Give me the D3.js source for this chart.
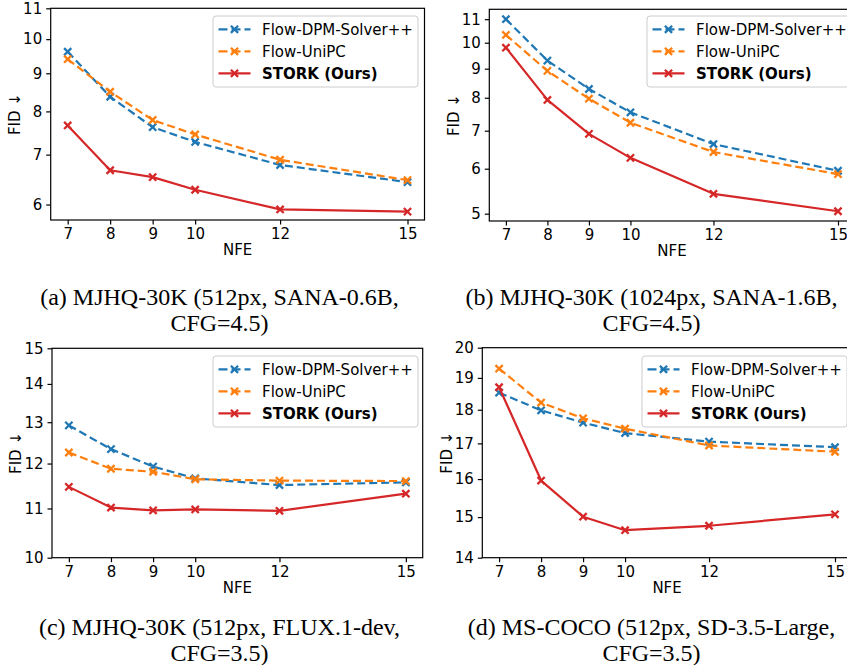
<!DOCTYPE html>
<html>
<head>
<meta charset="utf-8">
<script src="https://cdn.jsdelivr.net/npm/d3@7"></script>
<style>
  html, body { margin: 0; padding: 0; background: #fff; }
  svg { display: block; }
</style>
</head>
<body>
<svg id="fig" width="847" height="665"></svg>
<script>
// Number of function evaluations (shared x categories)
const nfe = [7, 8, 9, 10, 12, 15];
const seriesNames = ["Flow-DPM-Solver++", "Flow-UniPC", "STORK (Ours)"];

// FID values per benchmark
const fidA_dpm   = [9.62, 8.37, 7.62, 7.28, 6.78, 6.43];
const fidA_unipc = [9.40, 8.50, 7.79, 7.45, 6.89, 6.47];
const fidA_stork = [7.66, 6.67, 6.53, 6.28, 5.91, 5.87];

const fidB_dpm   = [11.00, 9.30, 8.29, 7.54, 6.63, 5.95];
const fidB_unipc = [10.32, 8.92, 7.97, 7.23, 6.42, 5.87];
const fidB_stork = [9.80, 7.93, 6.91, 6.27, 5.42, 5.05];

const fidC_dpm   = [12.92, 12.34, 11.93, 11.66, 11.51, 11.57];
const fidC_unipc = [12.26, 11.88, 11.81, 11.64, 11.61, 11.60];
const fidC_stork = [11.47, 11.02, 10.96, 10.98, 10.95, 11.32];

const fidD_dpm   = [18.53, 17.98, 17.61, 17.30, 17.05, 16.89];
const fidD_unipc = [19.30, 18.22, 17.74, 17.43, 16.94, 16.76];
const fidD_stork = [18.70, 15.96, 15.01, 14.67, 14.78, 15.07];

// Y tick labels per panel
const yTicksA = [6, 7, 8, 9, 10, 11];
const yTicksB = [5, 6, 7, 8, 9, 10, 11];
const yTicksC = [10, 11, 12, 13, 14, 15];
const yTicksD = [14, 15, 16, 17, 18, 19, 20];

// Captions (two lines each)
const captionA = ["(a) MJHQ-30K (512px, SANA-0.6B,", "CFG=4.5)"];
const captionB = ["(b) MJHQ-30K (1024px, SANA-1.6B,", "CFG=4.5)"];
const captionC = ["(c) MJHQ-30K (512px, FLUX.1-dev,", "CFG=3.5)"];
const captionD = ["(d) MS-COCO (512px, SD-3.5-Large,", "CFG=3.5)"];

const colors = ["#1f77b4", "#ff7f0e", "#d62728"];
const dashes = ["8,4", "8,4", null];

const panels = [
  { series: [fidA_dpm, fidA_unipc, fidA_stork], yTicks: yTicksA, yDomain: [5.72, 11],
    box: { left: 50.7, right: 424.5, top: 8.3, bottom: 220 },
    legend: { x: 213, y: 16 }, caption: captionA, capX: 219.5, capY: 304.5 },
  { series: [fidB_dpm, fidB_unipc, fidB_stork], yTicks: yTicksB, yDomain: [4.854, 11.45],
    box: { left: 489.3, right: 854.6, top: 9.3, bottom: 221 },
    legend: { x: 647, y: 16 }, caption: captionB, capX: 651.5, capY: 304.5 },
  { series: [fidC_dpm, fidC_unipc, fidC_stork], yTicks: yTicksC, yDomain: [10, 15],
    box: { left: 52, right: 422.7, top: 348.3, bottom: 557.7 },
    legend: { x: 213, y: 356 }, caption: captionC, capX: 219.5, capY: 635 },
  { series: [fidD_dpm, fidD_unipc, fidD_stork], yTicks: yTicksD, yDomain: [14, 20],
    box: { left: 482.3, right: 851.8, top: 347.7, bottom: 557.7 },
    legend: { x: 642, y: 356 }, caption: captionD, capX: 651.5, capY: 635 }
];

const svg = d3.select("#fig");
svg.append("rect").attr("width", 847).attr("height", 665).attr("fill", "#fff");

const fontSans = "'DejaVu Sans', sans-serif";
const labelSize = 15;

// thick "x" marker
function xMark(g, x, y, color) {
  const s = 3.6;
  g.append("path")
    .attr("d", `M${x - s},${y - s}L${x + s},${y + s}M${x - s},${y + s}L${x + s},${y - s}`)
    .attr("stroke", color).attr("stroke-width", 2.3).attr("fill", "none");
}

panels.forEach(p => {
  const b = p.box;
  const g = svg.append("g");
  const x = d3.scaleLinear().domain([6.6, 15.4]).range([b.left, b.right]);
  const y = d3.scaleLog().domain(p.yDomain).range([b.bottom, b.top]);

  // axes
  const xAxis = d3.axisBottom(x).tickValues(nfe).tickFormat(d3.format("d")).tickSize(4.5).tickPadding(4);
  const yAxis = d3.axisLeft(y).tickValues(p.yTicks).tickFormat(d3.format("d")).tickSize(4.5).tickPadding(4);
  const gx = g.append("g").attr("transform", `translate(0,${b.bottom})`).call(xAxis);
  const gy = g.append("g").attr("transform", `translate(${b.left},0)`).call(yAxis);
  [gx, gy].forEach(ax => {
    ax.select(".domain").remove();
    ax.selectAll(".tick line").attr("stroke", "#000").attr("stroke-width", 1.2);
    ax.selectAll(".tick text").attr("fill", "#000").style("font-size", labelSize + "px")
      .style("font-family", fontSans);
  });

  // lines and markers
  const line = d3.line().x((d, i) => x(nfe[i])).y(d => y(d));
  p.series.forEach((vals, si) => {
    const path = g.append("path").datum(vals)
      .attr("d", line).attr("fill", "none")
      .attr("stroke", colors[si]).attr("stroke-width", 2.2)
      .attr("stroke-linejoin", "round");
    if (dashes[si]) path.attr("stroke-dasharray", dashes[si]);
    vals.forEach((v, i) => xMark(g, x(nfe[i]), y(v), colors[si]));
  });

  // frame
  g.append("rect").attr("x", b.left).attr("y", b.top)
    .attr("width", b.right - b.left).attr("height", b.bottom - b.top)
    .attr("fill", "none").attr("stroke", "#000").attr("stroke-width", 1.2);

  // axis labels
  g.append("text").attr("x", (b.left + b.right) / 2)
    .attr("y", b.bottom + 35).attr("text-anchor", "middle")
    .style("font-family", fontSans).style("font-size", labelSize + "px").text("NFE");
  g.append("text")
    .attr("transform", `translate(${b.left - 36},${(b.top + b.bottom) / 2}) rotate(-90)`)
    .attr("text-anchor", "middle").attr("dy", "0.35em")
    .style("font-family", fontSans).style("font-size", labelSize + "px").text("FID \u2193");

  // legend
  const lg = g.append("g").attr("transform", `translate(${p.legend.x},${p.legend.y})`);
  lg.append("rect").attr("width", 205).attr("height", 71).attr("rx", 3)
    .attr("fill", "#fff").attr("fill-opacity", 0.8)
    .attr("stroke", "#cccccc").attr("stroke-width", 1);
  seriesNames.forEach((name, si) => {
    const ry = 13.3 + si * 22;
    const h = lg.append("line").attr("x1", 5.5).attr("x2", 37.5).attr("y1", ry).attr("y2", ry)
      .attr("stroke", colors[si]).attr("stroke-width", 2.2);
    if (dashes[si]) h.attr("stroke-dasharray", "9,4");
    xMark(lg, 21.5, ry, colors[si]);
    lg.append("text").attr("x", 49).attr("y", ry).attr("dy", "0.35em")
      .style("font-family", fontSans).style("font-size", "15px")
      .style("font-weight", si === 2 ? "bold" : "normal")
      .text(name);
  });

  // caption
  p.caption.forEach((txt, li) => {
    svg.append("text").attr("x", p.capX).attr("y", p.capY + li * 26.3)
      .attr("text-anchor", "middle")
      .style("font-family", "'Liberation Serif', 'Times New Roman', serif")
      .style("font-size", "24px").attr("fill", "#000")
      .text(txt);
  });
});
</script>
</body>
</html>
